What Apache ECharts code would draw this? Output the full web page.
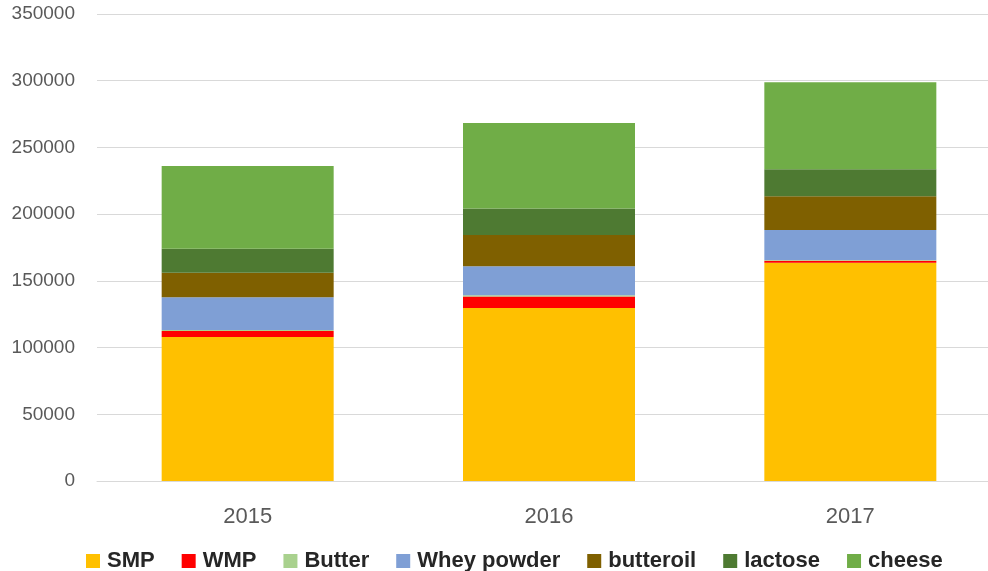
<!DOCTYPE html>
<html>
<head>
<meta charset="utf-8">
<script src="https://cdn.jsdelivr.net/npm/echarts@6/dist/echarts.min.js"></script>
<style>
html,body{margin:0;padding:0;background:#fff;overflow:hidden;}
#chart{width:1010px;height:571px;}
</style>
</head>
<body>
<div id="chart"></div>
<script>
var categories = ['2015', '2016', '2017'];
var smp = [108000, 129600, 163500];
var wmp = [4500, 8700, 1500];
var butter = [700, 1000, 700];
var wheyPowder = [24500, 21700, 22500];
var butteroil = [18400, 23400, 25200];
var lactose = [18000, 19800, 20200];
var cheese = [61900, 64100, 65200];
var yTicks = [0, 50000, 100000, 150000, 200000, 250000, 300000, 350000];

var seriesDefs = [
  ['SMP', smp, '#FFC000'],
  ['WMP', wmp, '#FF0000'],
  ['Butter', butter, '#A9D18E'],
  ['Whey powder', wheyPowder, '#7F9FD5'],
  ['butteroil', butteroil, '#7F6000'],
  ['lactose', lactose, '#4E7A32'],
  ['cheese', cheese, '#70AD47']
];

var chart = echarts.init(document.getElementById('chart'), null, {renderer: 'canvas'});
chart.setOption({
  animation: false,
  backgroundColor: '#ffffff',
  grid: {left: 97, top: 14, width: 904, height: 467, containLabel: false},
  legend: {
    left: 86, top: 550, padding: 0,
    itemWidth: 14, itemHeight: 14, itemGap: 27,
    icon: 'rect',
    textStyle: {fontFamily: 'Liberation Sans', fontSize: 22, fontWeight: 'bold', color: '#262626', padding: [0, 0, 0, 2]},
    data: seriesDefs.map(function (d) { return d[0]; })
  },
  xAxis: {
    type: 'category',
    data: categories,
    axisLine: {lineStyle: {color: '#D9D9D9', width: 1}},
    axisTick: {show: false},
    axisLabel: {fontFamily: 'Liberation Sans', fontSize: 22, color: '#595959', margin: 25}
  },
  yAxis: {
    type: 'value',
    min: yTicks[0], max: yTicks[yTicks.length - 1], interval: yTicks[1] - yTicks[0],
    axisLine: {show: false},
    axisTick: {show: false},
    splitLine: {lineStyle: {color: '#D9D9D9', width: 1}},
    axisLabel: {fontFamily: 'Liberation Sans', fontSize: 19, color: '#595959', margin: 22,
      formatter: function (v) { return String(v); }}
  },
  series: seriesDefs.map(function (d) {
    return {
      name: d[0], type: 'bar', stack: 'total', data: d[1],
      barWidth: 172,
      itemStyle: {color: d[2]}
    };
  })
});
</script>
</body>
</html>
